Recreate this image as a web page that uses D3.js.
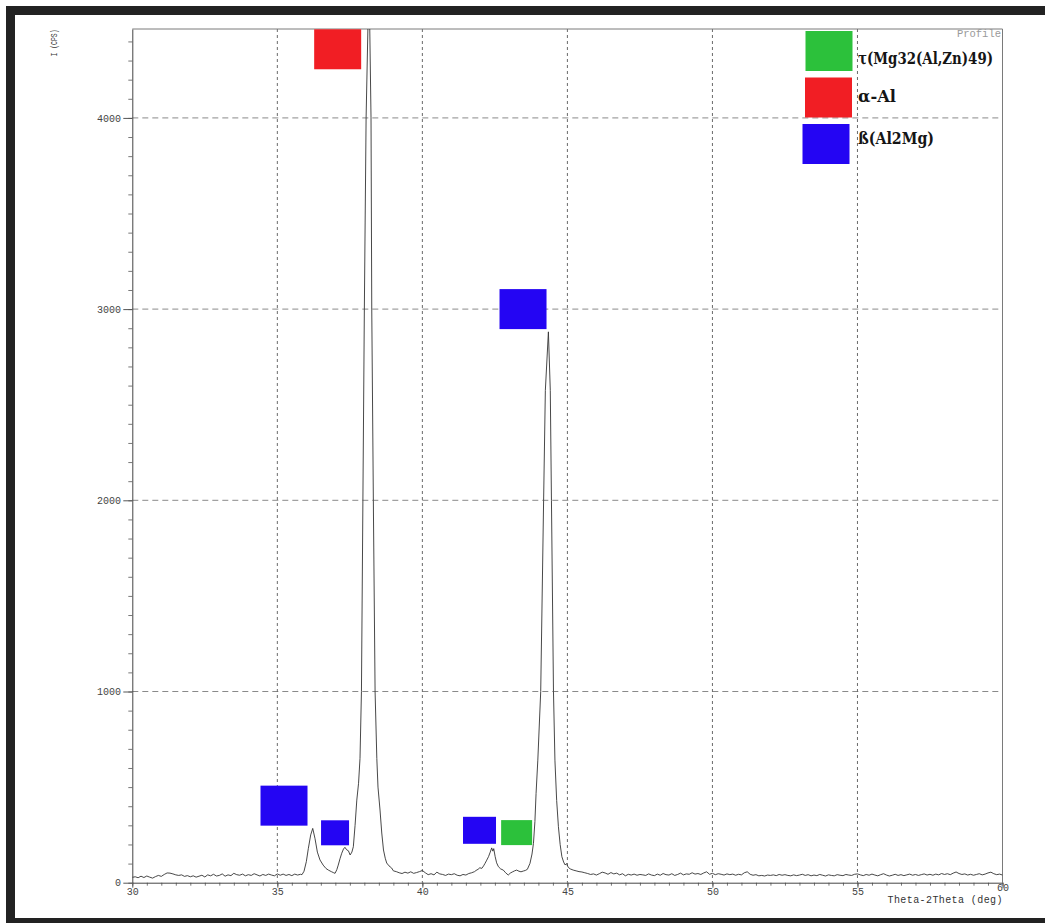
<!DOCTYPE html>
<html>
<head>
<meta charset="utf-8">
<script src="https://cdn.jsdelivr.net/npm/d3@7"></script>
<style>
  html, body { margin: 0; padding: 0; background: #fff; }
  svg { display: block; }
</style>
</head>
<body>
<svg id="chart" width="1045" height="923"></svg>
<script>
// X-ray diffraction scan: intensity (counts per second) against 2θ (degrees)

// Background stretch 30.0° – 35.8°, one reading every 0.1°
const bgLowStart = 30.0;
const bgLowCounts = [
  28, 31, 26, 34, 27, 35, 29, 24, 32, 38,
  33, 43, 51, 50, 46, 41, 38, 41, 33, 37,
  31, 36, 29, 34, 39, 30, 41, 36, 44, 35,
  38, 46, 34, 41, 37, 49, 42, 39, 45, 36,
  42, 38, 47, 41, 35, 43, 38, 45, 40, 36,
  46, 39, 45, 38, 43, 37, 45, 40, 44
];

// β(Al2Mg) reflections at 36.2° / 37.3° and the α-Al reflection at 38.2°, [2θ, cps]
const peaksAlpha = [
  [35.85, 42], [35.92, 60], [36.00, 110], [36.07, 180], [36.15, 250], [36.22, 284],
  [36.30, 230], [36.38, 160], [36.47, 119], [36.58, 92], [36.68, 74], [36.76, 66],
  [36.86, 58], [36.93, 53], [36.99, 49], [37.05, 68], [37.10, 92], [37.16, 125],
  [37.22, 154], [37.28, 176], [37.33, 185], [37.39, 172], [37.45, 167], [37.51, 145],
  [37.57, 160], [37.62, 188], [37.68, 300], [37.74, 432], [37.80, 520], [37.85, 650],
  [37.90, 1000], [37.95, 2000], [38.00, 3000], [38.06, 4000], [38.16, 4750],
  [38.23, 4000], [38.255, 3000], [38.31, 2000], [38.37, 1000], [38.43, 650],
  [38.47, 500], [38.54, 380], [38.60, 260], [38.66, 171], [38.72, 128], [38.77, 103],
  [38.85, 88], [38.94, 77], [39.00, 62]
];

// Background stretch 39.1° – 41.8°
const bgMidStart = 39.1;
const bgMidCounts = [
  58, 52, 48, 55, 50, 57, 49, 53, 58, 64,
  52, 42, 47, 41, 55, 46, 43, 38, 45, 42,
  47, 39, 36, 43, 40, 48, 52, 58
];

// β(Al2Mg) at 42.4°, τ shoulder and the strong reflection at 44.3°, [2θ, cps]
const peaksBeta = [
  [41.85, 64], [41.92, 70], [41.98, 78], [42.05, 75], [42.11, 88], [42.16, 101],
  [42.22, 118], [42.28, 136], [42.34, 160], [42.39, 182], [42.43, 165], [42.46, 178],
  [42.51, 136], [42.56, 104], [42.62, 84], [42.70, 72], [42.79, 66], [42.87, 52],
  [42.96, 40], [43.03, 50], [43.10, 56], [43.18, 62], [43.25, 66], [43.33, 60],
  [43.40, 57], [43.48, 61], [43.55, 64], [43.62, 70], [43.71, 101], [43.78, 150],
  [43.83, 206], [43.88, 320], [43.92, 467], [43.98, 641], [44.08, 1000], [44.18, 2000],
  [44.24, 2575], [44.345, 2881], [44.41, 2575], [44.45, 2000], [44.52, 1000],
  [44.57, 641], [44.63, 430], [44.69, 293], [44.75, 200], [44.81, 136], [44.87, 108],
  [44.92, 93], [44.97, 100], [45.03, 80], [45.10, 72], [45.20, 66]
];

// Background stretch 45.3° – 60.0°
const bgHighStart = 45.3;
const bgHighCounts = [
  62, 58, 56, 52, 48, 43, 46, 40, 47, 55,
  51, 44, 53, 46, 50, 41, 47, 36, 44, 40,
  45, 39, 43, 41, 38, 46, 40, 37, 45, 39,
  48, 42, 40, 47, 38, 43, 50, 41, 46, 44,
  52, 45, 48, 43, 51, 57, 44, 49, 42, 47,
  44, 40, 46, 42, 45, 39, 44, 41, 52, 57,
  44, 39, 42, 36, 38, 35, 40, 38, 41, 37,
  43, 39, 42, 38, 36, 41, 37, 40, 44, 38,
  42, 36, 40, 37, 43, 39, 35, 41, 38, 36,
  42, 39, 37, 43, 40, 38, 44, 46, 41, 37,
  43, 39, 45, 40, 36, 42, 47, 40, 35, 39,
  44, 38, 42, 37, 41, 45, 39, 43, 38, 42,
  46, 40, 44, 39, 45, 41, 48, 43, 47, 42,
  50, 56, 48, 43, 46, 40, 44, 39, 43, 47,
  41, 45, 51, 55, 47, 42, 45, 40
];
const bgStep = 0.1;

// Axis ticks and grid
const xTickValues = [30, 35, 40, 45, 50, 55, 60];
const yTickValues = [0, 1000, 2000, 3000, 4000];
const xGridValues = [35, 40, 45, 50, 55];
const yGridValues = [1000, 2000, 3000, 4000];

// Phases and their peak markers: marker centre [2θ, cps]
const phaseNames = ["τ(Mg32(Al,Zn)49)", "α-Al", "ß(Al2Mg)"];
const phaseKeys = ["tau", "alpha", "beta"];
const markerPhase = ["alpha", "beta", "beta", "beta", "beta", "tau"];
const markerAngle = [37.08, 43.47, 35.23, 36.99, 41.97, 43.25];
const markerCps = [4359, 3000, 403, 261, 274, 262];

// ---- styling ----
const phaseColor = { tau: "#2cc13b", alpha: "#f11e24", beta: "#2405f3" };
const markerSize = [[47, 40], [47, 40], [47, 40], [28, 25], [33, 27], [31, 25]];
const monoFont = "'Liberation Mono', 'DejaVu Sans Mono', monospace";
const serifFont = "'DejaVu Serif', 'Liberation Serif', serif";

const svg = d3.select("#chart");
const W = 1045, H = 923;
const plot = { left: 132.3, top: 29, right: 1002.5, bottom: 882.7 };

const x = d3.scaleLinear().domain([30, 60]).range([plot.left, plot.right]);
const y = d3.scaleLinear().domain([0, 4465]).range([plot.bottom, plot.top]);

// Assemble the scan from its pieces
const expand = (start, counts) =>
  counts.map((c, i) => [+(start + i * bgStep).toFixed(2), c]);
const scan = [].concat(
  expand(bgLowStart, bgLowCounts),
  peaksAlpha,
  expand(bgMidStart, bgMidCounts),
  peaksBeta,
  expand(bgHighStart, bgHighCounts)
);

// Page frame
svg.append("rect").attr("x", 0).attr("y", 0).attr("width", W).attr("height", H).attr("fill", "#fff");
const frame = svg.append("g").attr("fill", "#222");
frame.append("rect").attr("x", 6).attr("y", 6).attr("width", W - 6).attr("height", 9);
frame.append("rect").attr("x", 6).attr("y", 6).attr("width", 9).attr("height", H - 6);
frame.append("rect").attr("x", 6).attr("y", 918).attr("width", W - 6).attr("height", 5);

// Grid
const grid = svg.append("g");
grid.selectAll("line.gy").data(yGridValues).join("line")
  .attr("class", "gy")
  .attr("x1", plot.left).attr("x2", plot.right)
  .attr("y1", d => y(d)).attr("y2", d => y(d))
  .attr("stroke", "#8a8a8a").attr("stroke-width", 1)
  .attr("stroke-dasharray", "6,4");
grid.selectAll("line.gx").data(xGridValues).join("line")
  .attr("class", "gx")
  .attr("y1", plot.top).attr("y2", plot.bottom)
  .attr("x1", d => x(d)).attr("x2", d => x(d))
  .attr("stroke", "#6a6a6a").attr("stroke-width", 1)
  .attr("stroke-dasharray", "3,3");

// Plot border (top and right)
svg.append("path")
  .attr("d", `M${plot.left},${plot.top}H${plot.right}V${plot.bottom}`)
  .attr("fill", "none").attr("stroke", "#7a7a7a").attr("stroke-width", 1);

// Axes
const styleAxis = g => {
  g.select(".domain").attr("stroke", "#444");
  g.selectAll(".tick line").attr("stroke", "#555");
  g.selectAll(".tick text")
    .attr("fill", "#444")
    .style("font-family", monoFont)
    .style("font-size", "10px");
};

svg.append("g")
  .attr("transform", `translate(${plot.left},0)`)
  .call(d3.axisLeft(y).tickValues(d3.range(0, 4465, 100)).tickSize(4).tickSizeOuter(0).tickFormat(""))
  .call(g => g.select(".domain").remove())
  .call(g => g.selectAll(".tick line").attr("stroke", "#777"));

svg.append("g")
  .attr("transform", `translate(${plot.left},0)`)
  .call(d3.axisLeft(y).tickValues(yTickValues).tickSize(9).tickSizeOuter(0)
    .tickPadding(2.3).tickFormat(d3.format("d")))
  .call(styleAxis);

svg.append("g")
  .attr("transform", `translate(0,${plot.bottom})`)
  .call(d3.axisBottom(x).tickValues(d3.range(30, 60.01, 0.5)).tickSize(3).tickSizeOuter(0).tickFormat(""))
  .call(g => g.select(".domain").remove())
  .call(g => g.selectAll(".tick line").attr("stroke", "#777"));

svg.append("g")
  .attr("transform", `translate(0,${plot.bottom})`)
  .call(d3.axisBottom(x).tickValues(xTickValues).tickSize(5).tickSizeOuter(0)
    .tickPadding(0.5).tickFormat(d3.format("d")))
  .call(styleAxis)
  .call(g => g.selectAll(".tick text").filter(d => d === 60).attr("dy", "0.28em"));

// Axis titles
svg.append("text")
  .attr("transform", "translate(56.5,43) rotate(-90)")
  .attr("text-anchor", "middle")
  .attr("fill", "#333")
  .attr("textLength", 27).attr("lengthAdjust", "spacingAndGlyphs")
  .style("font-family", monoFont).style("font-size", "9px")
  .text("I (CPS)");

svg.append("text")
  .attr("x", plot.right).attr("y", 902.6)
  .attr("text-anchor", "end")
  .attr("fill", "#333")
  .attr("textLength", 115).attr("lengthAdjust", "spacing")
  .style("font-family", monoFont).style("font-size", "10px")
  .text("Theta-2Theta (deg)");

svg.append("text")
  .attr("x", plot.right - 1.5).attr("y", 36.5)
  .attr("text-anchor", "end")
  .attr("fill", "#9a9a9a")
  .style("font-family", monoFont).style("font-size", "10.5px")
  .text("Profile");

// Diffraction profile
svg.append("clipPath").attr("id", "plot-clip")
  .append("rect")
  .attr("x", plot.left).attr("y", plot.top)
  .attr("width", plot.right - plot.left).attr("height", plot.bottom - plot.top);

const line = d3.line().x(d => x(d[0])).y(d => y(d[1]));
svg.append("path")
  .datum(scan)
  .attr("clip-path", "url(#plot-clip)")
  .attr("d", line)
  .attr("fill", "none")
  .attr("stroke", "#333")
  .attr("stroke-width", 0.9)
  .attr("stroke-linejoin", "round");

// Phase markers on the peaks
svg.append("g").selectAll("rect")
  .data(markerAngle.map((a, i) => ({ a, c: markerCps[i], p: markerPhase[i], s: markerSize[i] })))
  .join("rect")
  .attr("x", d => x(d.a) - d.s[0] / 2)
  .attr("y", d => Math.max(plot.top, y(d.c) - d.s[1] / 2))
  .attr("width", d => d.s[0])
  .attr("height", d => d.s[1])
  .attr("fill", d => phaseColor[d.p]);

// Legend
const legendSwatches = [[805.5, 31, 47, 40], [805, 77.5, 47, 40], [802.5, 124, 47, 40]];
const legendText = [[858, 64, 135], [858, 101.5, 38], [858, 144, 76]];
const legend = svg.append("g");
phaseKeys.forEach((k, i) => {
  const s = legendSwatches[i], t = legendText[i];
  legend.append("rect")
    .attr("x", s[0]).attr("y", s[1]).attr("width", s[2]).attr("height", s[3])
    .attr("fill", phaseColor[k]);
  legend.append("text")
    .attr("x", t[0]).attr("y", t[1])
    .attr("textLength", t[2]).attr("lengthAdjust", "spacingAndGlyphs")
    .attr("fill", "#151515")
    .style("font-family", serifFont).style("font-size", "16px")
    .style("font-weight", "bold")
    .text(phaseNames[i]);
});
</script>
</body>
</html>
